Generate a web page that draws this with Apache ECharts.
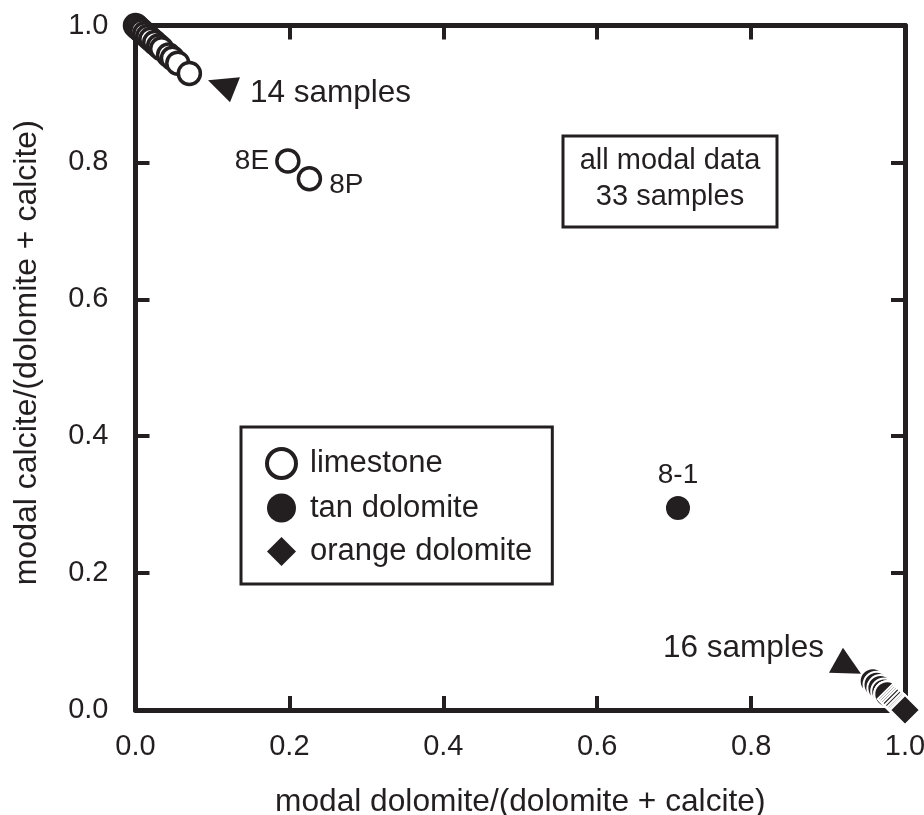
<!DOCTYPE html>
<html>
<head>
<meta charset="utf-8">
<script src="https://cdn.jsdelivr.net/npm/echarts@6/dist/echarts.min.js"></script>
<style>
  html, body { margin: 0; padding: 0; background: #fff; }
  #chart { width: 924px; height: 815px; }
</style>
</head>
<body>
<div id="chart"></div>
<script>
// modal dolomite/(dolomite + calcite) vs modal calcite/(dolomite + calcite)
const limestoneX = [0, 0.002, 0.005, 0.008, 0.012, 0.016, 0.02, 0.025, 0.03, 0.034, 0.043, 0.048, 0.055, 0.07, 0.198, 0.226];
const limestoneY = [1, 0.998, 0.995, 0.992, 0.988, 0.984, 0.98, 0.975, 0.97, 0.966, 0.957, 0.952, 0.945, 0.93, 0.802, 0.776];
const limestoneLabels = ["", "", "", "", "", "", "", "", "", "", "", "", "", "", "8E", "8P"];

const tanX = [0.705, 0.958, 0.963, 0.968, 0.973, 0.977, 0.977, 0.977];
const tanY = [0.295, 0.042, 0.037, 0.032, 0.027, 0.023, 0.023, 0.023];
const tanLabels = ["8-1", "", "", "", "", "", "", ""];

const orangeX = [0.984, 0.986, 0.988, 0.99, 0.993, 0.996, 0.998, 1.0, 1.0];
const orangeY = [0.016, 0.014, 0.012, 0.01, 0.007, 0.004, 0.002, 0.0, 0.0];

// annotation arrows and their captions
const arrowX = [0.115, 0.922];
const arrowY = [0.906, 0.072];
const arrowText = ["14 samples", "16 samples"];

const ink = "#231f20";
const fontFamily = "'Liberation Sans', Arial, Helvetica, sans-serif";

const chart = echarts.init(document.getElementById("chart"));

const frameAxis = (extra) => Object.assign({
  type: "value",
  min: 0,
  max: 1,
  interval: 0.2,
  axisLine: { show: true, onZero: false, lineStyle: { color: ink, width: 5 } },
  axisTick: { show: true, inside: true, length: 14, lineStyle: { color: ink, width: 4 } },
  splitLine: { show: false },
}, extra);

const pairs = (xs, ys) => xs.map((x, i) => [x, ys[i]]);

chart.setOption({
  animation: false,
  backgroundColor: "#fff",
  textStyle: { fontFamily: fontFamily, color: ink },
  grid: { left: 135.5, right: 19, top: 25.5, bottom: 105, containLabel: false, outerBoundsMode: "none" },
  xAxis: [
    frameAxis({
      position: "bottom",
      name: "modal dolomite/(dolomite + calcite)",
      nameLocation: "middle",
      nameGap: 76,
      nameTextStyle: { fontSize: 31.7, color: ink, fontFamily: fontFamily },
      axisLabel: {
        fontSize: 29, color: ink, margin: 22, fontFamily: fontFamily,
        formatter: (v) => v.toFixed(1),
      },
    }),
    frameAxis({ position: "top", axisLabel: { show: false } }),
  ],
  yAxis: [
    frameAxis({
      position: "left",
      name: "modal calcite/(dolomite + calcite)",
      nameLocation: "middle",
      nameGap: 92,
      nameTextStyle: { fontSize: 32, color: ink, fontFamily: fontFamily, padding: [0, 0, 0, 30] },
      axisLabel: {
        fontSize: 29, color: ink, margin: 27, fontFamily: fontFamily,
        formatter: (v) => v.toFixed(1),
      },
    }),
    frameAxis({ position: "right", axisLabel: { show: false } }),
  ],
  legend: {
    orient: "vertical",
    left: 241,
    top: 427,
    data: [
      { name: "limestone", itemStyle: { color: "#fff", borderColor: ink, borderWidth: 4 } },
      { name: "tan dolomite", itemStyle: { color: ink, borderWidth: 0 } },
      { name: "orange dolomite", itemStyle: { color: ink, borderWidth: 0 } },
    ],
    itemWidth: 29,
    itemHeight: 29,
    itemGap: 12.5,
    padding: [20, 20, 17, 24],
    borderColor: ink,
    borderWidth: 3,
    textStyle: { fontSize: 31, color: ink, fontFamily: fontFamily, padding: [0, 0, 0, 9] },
    selectedMode: false,
  },
  series: [
    {
      name: "limestone",
      type: "scatter",
      clip: false,
      symbol: "circle",
      symbolSize: 22,
      itemStyle: { color: "#fff", borderColor: ink, borderWidth: 3.5, opacity: 1 },
      label: {
        show: true,
        fontSize: 28,
        color: ink,
        fontFamily: fontFamily,
        formatter: (p) => limestoneLabels[p.dataIndex],
        position: "right",
      },
      data: pairs(limestoneX, limestoneY).map((d, i) => ({
        value: d,
        label: limestoneLabels[i] === "8E" ? { position: "left", distance: 6 } : { position: "right", distance: 7, offset: [0, 6] },
      })),
      z: 3,
    },
    {
      name: "tan dolomite",
      type: "scatter",
      clip: false,
      symbol: "circle",
      symbolSize: 26,
      itemStyle: { color: ink, borderColor: "#fff", borderWidth: 2, opacity: 1 },
      label: {
        show: true,
        fontSize: 28,
        color: ink,
        fontFamily: fontFamily,
        position: "top",
        distance: 3,
        offset: [0, -2],
        formatter: (p) => tanLabels[p.dataIndex],
      },
      data: pairs(tanX, tanY),
      z: 4,
    },
    {
      name: "orange dolomite",
      type: "scatter",
      clip: false,
      symbol: "diamond",
      symbolSize: 30,
      itemStyle: { color: ink, borderColor: "#fff", borderWidth: 2, opacity: 1 },
      data: pairs(orangeX, orangeY),
      z: 5,
    },
    {
      name: "arrows",
      type: "scatter",
      clip: false,
      silent: true,
      itemStyle: { color: ink, opacity: 1 },
      label: {
        show: true,
        fontSize: 31.5,
        color: ink,
        fontFamily: fontFamily,
        formatter: (p) => arrowText[p.dataIndex],
      },
      data: [
        {
          value: [arrowX[0], arrowY[0]],
          symbol: "path://M0,3 L32,0 L22,25 Z",
          symbolSize: [32, 25],
          label: { position: "right", distance: 10, offset: [0, 3] },
        },
        {
          value: [arrowX[1], arrowY[1]],
          symbol: "path://M14,0 L0,25 L32,26 Z",
          symbolSize: [32, 26],
          label: { position: "left", distance: 5, offset: [0, -12] },
        },
      ],
      z: 3,
    },
  ],
  graphic: [
    {
      type: "rect",
      shape: { x: 563, y: 136, width: 214, height: 91 },
      style: { fill: "#fff", stroke: ink, lineWidth: 3 },
      z: 10,
    },
    {
      type: "text",
      x: 670,
      y: 179,
      style: {
        text: "all modal data\n33 samples",
        font: "29px " + fontFamily,
        fill: ink,
        align: "center",
        verticalAlign: "middle",
        lineHeight: 36,
      },
      z: 11,
    },
  ],
});
</script>
</body>
</html>
